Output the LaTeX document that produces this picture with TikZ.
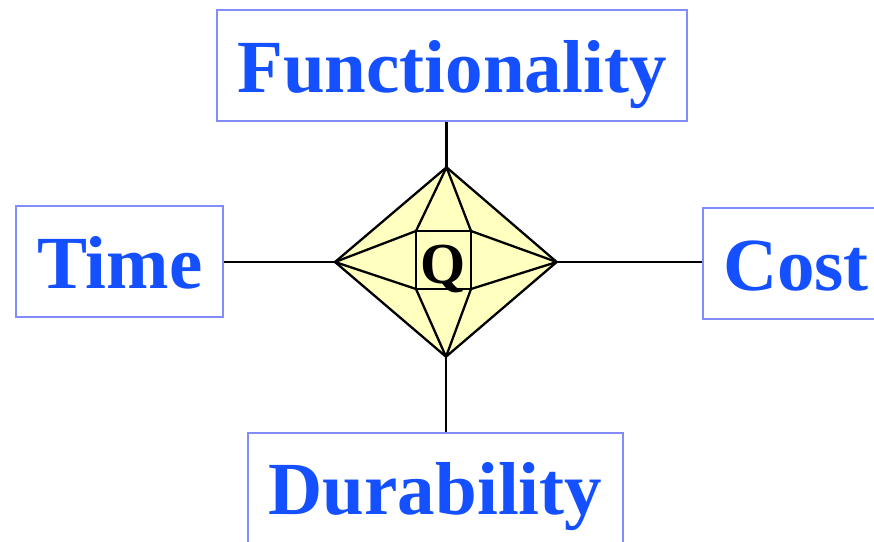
\documentclass[tikz,border=0pt]{standalone}
\usepackage{fontspec}
\setmainfont{Liberation Serif}
\definecolor{txtblue}{RGB}{20,80,255}
\definecolor{boxblue}{RGB}{130,140,255}
\definecolor{diafill}{RGB}{255,255,192}
\tikzset{
  catbox/.style={draw=boxblue, line width=2.3pt, fill=white, inner sep=0pt},
  cattext/.style={text=txtblue, font=\fontsize{75}{80}\selectfont\bfseries, inner sep=0pt, anchor=base},
  link/.style={draw=black, line width=2.3pt},
  dia/.style={draw=black, line width=2.3pt, line join=round}
}
\begin{document}
\begin{tikzpicture}[x=1pt,y=-1pt]
\useasboundingbox (0,0) rectangle (874,541);
% boxes
\node[catbox, minimum width=470pt, minimum height=110.7pt] (fbox) at (452.3,65.3) {};
\node[catbox, minimum width=207pt, minimum height=111pt] (tbox) at (119.2,261.2) {};
\node[catbox, minimum width=182pt, minimum height=111.3pt] (cbox) at (793.7,263.35) {};
\node[catbox, minimum width=374.7pt, minimum height=127.3pt] (dbox) at (435.35,496.35) {};
% texts
\node[cattext] (ftext) at (452,92.7) {Functionality};
\node[cattext] (ttext) at (119.7,288.3) {Time};
\node[cattext] (ctext) at (796,290) {Cost};
\node[cattext] (dtext) at (435.5,514) {Durability};
% diamond coordinates
\coordinate (dt) at (446.5,167.3);
\coordinate (dl) at (335,262);
\coordinate (dr) at (556.7,262);
\coordinate (db) at (446,356.7);
\coordinate (s1) at (416,231);
\coordinate (s2) at (471,231);
\coordinate (s3) at (471,289);
\coordinate (s4) at (416,289);
% connectors
\draw[link] (dt) -- (dt |- fbox.south);
\draw[link] (dl) -- (dl -| tbox.east);
\draw[link] (dr) -- (dr -| cbox.west);
\draw[link] (db) -- (db |- dbox.north);
% diamond
\draw[dia, fill=diafill] (dt) -- (dr) -- (db) -- (dl) -- cycle;
\draw[dia] (s1) -- (s2) -- (s3) -- (s4) -- cycle;
\draw[dia] (dt) -- (s1) (dt) -- (s2);
\draw[dia] (dr) -- (s2) (dr) -- (s3);
\draw[dia] (db) -- (s3) (db) -- (s4);
\draw[dia] (dl) -- (s4) (dl) -- (s1);
\node[font=\fontsize{58}{60}\selectfont\bfseries, inner sep=0pt, anchor=base] (q) at (443.5,283.3) {Q};
\end{tikzpicture}
\end{document}
